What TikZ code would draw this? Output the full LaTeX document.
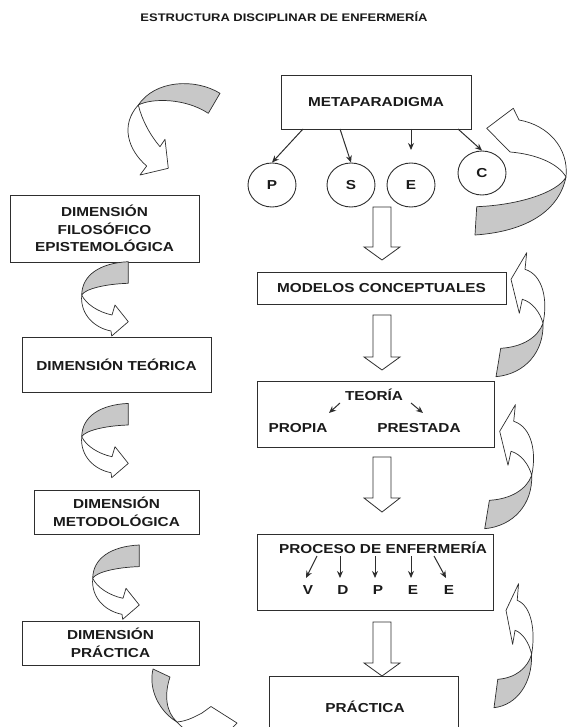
\documentclass[tikz,border=0pt]{standalone}
\usepackage{fontspec}
\setmainfont{Liberation Sans}[FakeStretch=1.18]
\usetikzlibrary{arrows.meta,shapes.geometric}
\definecolor{ln}{HTML}{2E2E2E}
\definecolor{gr}{HTML}{C8C8C8}
\definecolor{txt}{HTML}{1A1A1A}
\newcommand{\mkblk}[4]{%
  \draw[blk] (#1-9,#2) -- (#1+9,#2) -- (#1+9,#3) -- (#1+18,#3) -- (#1,#4) -- (#1-18,#3) -- (#1-9,#3) -- cycle;}
\newcommand{\leftcurl}{%
  \draw[band] (128.3,261.7) .. controls (100,263) and (82,275) .. (81.7,295)
     .. controls (85,289) and (105,284) .. (128.3,283.3) -- cycle;
  \draw[front] (81.7,295) .. controls (80,315) and (95,328) .. (111,331) -- (111.7,336)
     -- (128.3,321.7) -- (115,305) -- (112,315) .. controls (98,312) and (86,304) .. (81.7,295) -- cycle;}
\newcommand{\rightcurl}{%
  \draw[band] (496,376.7) -- (500.7,348.3) .. controls (523,347) and (538,337) .. (543,323.3)
     .. controls (544,352) and (525,374) .. (496,376.7) -- cycle;
  \draw[front] (543,323.3) .. controls (548,300) and (543,275) .. (525,269.3) -- (526.7,252.7)
     -- (511,279.3) -- (519.3,313.3) -- (522.3,299.3) .. controls (532,302) and (540,312) .. (543,323.3) -- cycle;}
\begin{document}
\begin{tikzpicture}[x=1pt,y=-1pt,
  box/.style={draw=ln, line width=0.9pt, fill=white, inner sep=0pt, align=center, text=txt,
     font=\bfseries\fontsize{13}{17.5}\selectfont},
  lbl/.style={inner sep=0pt, text=txt, font=\bfseries\fontsize{13}{17.5}\selectfont},
  circ/.style={draw=ln, line width=0.9pt, ellipse, minimum width=48pt, minimum height=44pt, inner sep=0pt,
     text=txt, font=\bfseries\fontsize{13}{15}\selectfont},
  arr/.style={draw=ln, line width=1pt, -{Stealth[length=7pt,width=6pt]}},
  blk/.style={draw=ln, line width=0.8pt, fill=white},
  band/.style={draw=ln, line width=0.7pt, fill=gr, line join=round},
  front/.style={draw=ln, line width=0.7pt, fill=white, line join=round}]
\path[use as bounding box] (0,0) rectangle (568,727);
\clip (0,0) rectangle (568,727);

% title
\node[lbl, font=\bfseries\fontsize{11}{13}\selectfont] (title) at (284,17) {ESTRUCTURA DISCIPLINAR DE ENFERMERÍA};

% right column
\node[box, minimum width=190pt, minimum height=54pt] (meta) at (376,102) {METAPARADIGMA};
\node[circ] (cP) at (272,185) {P};
\node[circ] (cS) at (351,185) {S};
\node[circ] (cE) at (411,185) {E};
\node[circ] (cC) at (482,173) {C};
\coordinate (eEnd) at (411,150);
\draw[arr] (303,129) -- (cP.north);
\draw[arr] (340,129) -- (cS.north);
\draw[arr] (411,129) -- (eEnd);
\draw[arr] (458,129) -- (cC.north);

\node[box, minimum width=249pt, minimum height=32pt] (mod) at (381.5,288) {MODELOS CONCEPTUALES};

\node[box, minimum width=237pt, minimum height=66pt] (teo) at (375.5,414) {};
\node[lbl] (teoT) at (374,395) {TEORÍA};
\node[lbl] (propia) at (298,428) {PROPIA};
\node[lbl] (prestada) at (419,428) {PRESTADA};
\coordinate (a1s) at (340,403); \coordinate (a1e) at (329,413);
\coordinate (a2s) at (411,403); \coordinate (a2e) at (423,413);
\draw[arr] (a1s) -- (a1e);
\draw[arr] (a2s) -- (a2e);

\node[box, minimum width=236pt, minimum height=76pt] (proc) at (375,572) {};
\node[lbl] (procT) at (383,548) {PROCESO DE ENFERMERÍA};
\node[lbl] (lV) at (308,590) {V};
\node[lbl] (lD) at (343,590) {D};
\node[lbl] (lP) at (378,590) {P};
\node[lbl] (lE1) at (413,590) {E};
\node[lbl] (lE2) at (449,590) {E};
\draw[arr] (317,556) -- (306,578);
\draw[arr] (340,556) -- (340,578);
\draw[arr] (375,556) -- (375,578);
\draw[arr] (411,556) -- (411,578);
\draw[arr] (434,556) -- (446,578);

\node[box, minimum width=189pt, minimum height=70pt] (prac) at (363.5,711) {};
\node[lbl] (pracT) at (365,707) {PRÁCTICA};

% block arrows
\mkblk{382}{207}{247}{260}
\mkblk{382}{315}{357}{370}
\mkblk{382}{457}{498}{512}
\mkblk{382}{622}{663}{676}

% left column
\node[box, minimum width=189pt, minimum height=67pt] (d1) at (104.5,228.5) {DIMENSIÓN\\FILOSÓFICO\\EPISTEMOLÓGICA};
\node[box, minimum width=189pt, minimum height=55pt] (d2) at (116.5,364.5) {DIMENSIÓN TEÓRICA};
\node[box, minimum width=165pt, minimum height=44pt] (d3) at (116.5,512) {DIMENSIÓN\\METODOLÓGICA};
\node[box, minimum width=177pt, minimum height=44pt] (d4) at (110.5,643) {DIMENSIÓN\\PRÁCTICA};

% curved arrows, left
\leftcurl
\begin{scope}[shift={(0,141.7)}]\leftcurl\end{scope}
\begin{scope}[shift={(11,283.3)}]\leftcurl\end{scope}

% top-left big arrow
\draw[band] (220,93.3) .. controls (195,78) and (155,80) .. (138.3,105)
   .. controls (152,98) and (185,98) .. (208.3,113.3) -- cycle;
\draw[front] (138.3,105) .. controls (120,125) and (128,150) .. (146.7,166) -- (140,175)
   -- (168.3,168.3) -- (165,139.3) -- (160,146.7) .. controls (150,135) and (142,120) .. (138.3,105) -- cycle;

% bottom-left arrow
\draw[band] (153,669) -- (170,677) .. controls (164,695) and (166,712) .. (177,722)
   .. controls (160,712) and (148,690) .. (153,669) -- cycle;
\draw[front] (177,722) .. controls (188,721) and (196,716) .. (202,713) -- (211,706.5)
   -- (237,723) -- (216,745) -- (206,737) .. controls (195,737) and (184,730) .. (177,722) -- cycle;

% curved arrows, right
\rightcurl
\begin{scope}[shift={(-11.3,152)}]\rightcurl\end{scope}
\begin{scope}[shift={(97.2,331)}, xscale=0.8]\rightcurl\end{scope}

% big arrow around C
\draw[band] (476.7,206.7) -- (475,235) .. controls (520,232) and (558,215) .. (566,177)
   .. controls (558,192) and (520,205) .. (476.7,206.7) -- cycle;
\draw[front] (566,177) .. controls (569,148) and (548,125) .. (519,120) -- (513.3,108.3)
   -- (486.7,128.3) -- (510,152) .. controls (535,154) and (558,163) .. (566,177) -- cycle;
\end{tikzpicture}
\end{document}
